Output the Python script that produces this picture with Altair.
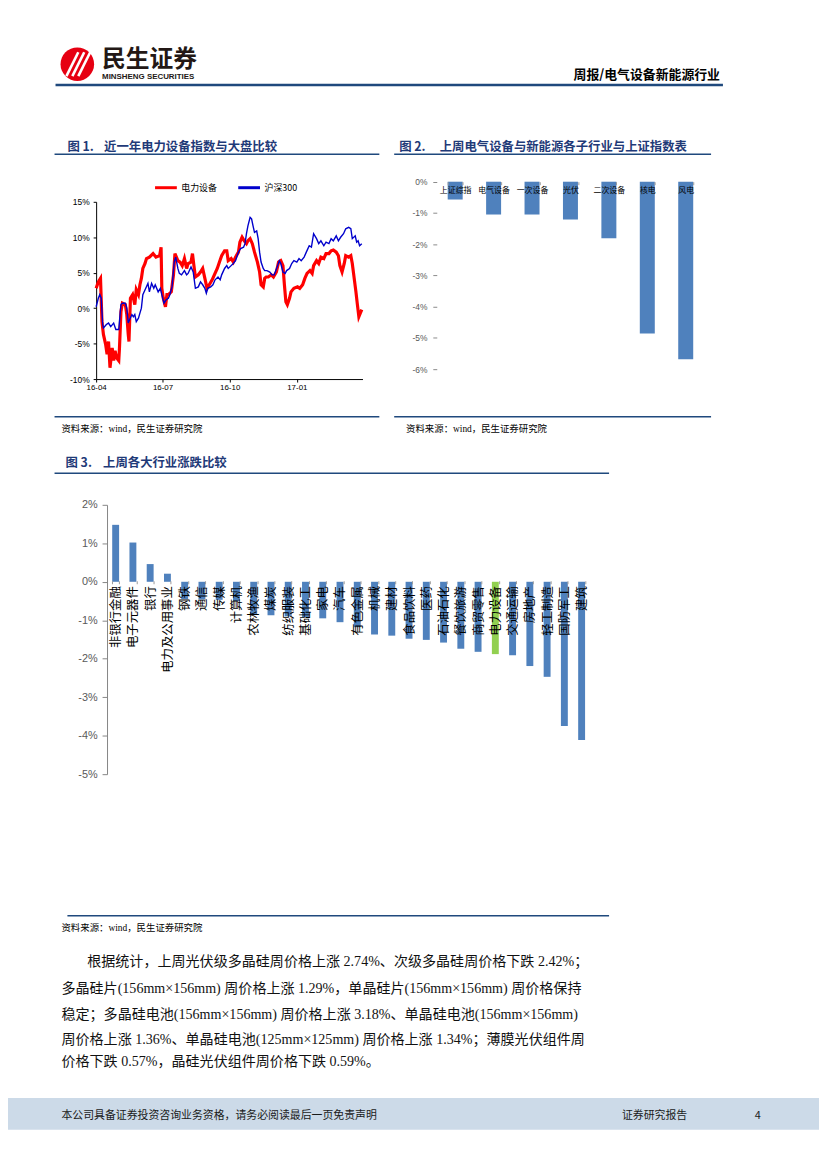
import altair as alt
import pandas as pd

# ---------------- data ----------------
# Fig 1: 电力设备 index vs 沪深300 (cumulative change, %)
dl_dates = ["2016-04-01","2016-04-04","2016-04-07","2016-04-09","2016-04-11","2016-04-14","2016-04-16","2016-04-18","2016-04-20","2016-04-23",
            "2016-04-25","2016-04-27","2016-04-29","2016-05-02","2016-05-03","2016-05-05","2016-05-07","2016-05-11","2016-05-13","2016-05-15",
            "2016-05-16","2016-05-18","2016-05-21","2016-05-24","2016-05-26","2016-05-29","2016-05-31","2016-06-02","2016-06-04","2016-06-07",
            "2016-06-09","2016-06-13","2016-06-18","2016-06-22","2016-06-27","2016-06-29","2016-06-30","2016-07-02","2016-07-05","2016-07-07",
            "2016-07-09","2016-07-13","2016-07-16","2016-07-18","2016-07-22","2016-07-25","2016-07-28","2016-07-31","2016-08-03","2016-08-05",
            "2016-08-09","2016-08-11","2016-08-13","2016-08-15","2016-08-19","2016-08-22","2016-08-25","2016-08-28","2016-08-31","2016-09-03",
            "2016-09-07","2016-09-10","2016-09-14","2016-09-17","2016-09-20","2016-09-24","2016-09-27","2016-09-29","2016-10-03","2016-10-06",
            "2016-10-09","2016-10-13","2016-10-15","2016-10-18","2016-10-21","2016-10-24","2016-10-26","2016-10-29","2016-11-01","2016-11-04",
            "2016-11-08","2016-11-11","2016-11-13","2016-11-16","2016-11-18","2016-11-20","2016-11-23","2016-11-27","2016-11-30","2016-12-04",
            "2016-12-07","2016-12-10","2016-12-13","2016-12-15","2016-12-17","2016-12-19","2016-12-22","2016-12-24","2016-12-28","2017-01-02",
            "2017-01-05","2017-01-09","2017-01-12","2017-01-15","2017-01-19","2017-01-22","2017-01-24","2017-01-28","2017-01-31","2017-02-03",
            "2017-02-07","2017-02-10","2017-02-14","2017-02-17","2017-02-20","2017-02-24","2017-02-27","2017-03-01","2017-03-04","2017-03-07",
            "2017-03-09","2017-03-13","2017-03-16","2017-03-18","2017-03-20","2017-03-23","2017-03-25","2017-03-27","2017-03-29","2017-03-31"]
dl_values = [2.8,3.7,4.2,-1.9,-3.7,-5.1,-6.5,-4.7,-8.4,-5.6,
             -7.4,-6.0,-7.0,-7.4,-5.6,-0.5,0.7,0.5,-0.9,-3.7,
             -4.7,1.4,1.9,0.5,2.6,1.9,3.3,4.2,5.6,6.3,
             7.0,7.2,7.7,7.2,7.4,8.6,2.8,1.4,0.2,1.9,
             1.9,2.3,4.7,7.7,6.7,6.5,6.0,7.0,5.6,6.3,
             6.5,7.7,6.0,4.4,4.7,5.1,5.6,4.2,2.8,3.3,
             4.0,4.7,5.6,6.5,7.4,8.1,8.1,6.7,7.0,6.5,
             7.2,7.9,9.3,10.0,9.5,9.1,9.5,9.8,9.1,7.9,
             6.5,5.1,3.3,3.0,4.2,4.4,4.4,4.7,4.4,5.1,
             6.5,6.7,6.0,3.3,0.9,0.5,1.4,2.3,2.8,3.0,
             2.8,3.3,4.2,4.9,5.3,4.9,6.0,6.7,6.3,7.2,
             7.0,7.7,7.7,8.1,8.2,7.9,7.4,6.0,5.1,6.3,
             7.4,7.2,7.4,6.3,4.7,2.3,0.5,-1.2,-0.7,-0.2]

hs_dates = ["2016-04-01","2016-04-04","2016-04-06","2016-04-08","2016-04-10","2016-04-11","2016-04-15","2016-04-18","2016-04-21","2016-04-25",
            "2016-04-28","2016-05-02","2016-05-05","2016-05-07","2016-05-11","2016-05-13","2016-05-15","2016-05-17","2016-05-20","2016-05-22",
            "2016-05-24","2016-05-26","2016-05-29","2016-05-31","2016-06-02","2016-06-04","2016-06-08","2016-06-11","2016-06-13","2016-06-16",
            "2016-06-19","2016-06-21","2016-06-25","2016-06-28","2016-06-30","2016-07-03","2016-07-06","2016-07-09","2016-07-11","2016-07-14",
            "2016-07-17","2016-07-19","2016-07-22","2016-07-24","2016-07-27","2016-07-31","2016-08-03","2016-08-05","2016-08-09","2016-08-12",
            "2016-08-15","2016-08-19","2016-08-22","2016-08-25","2016-08-28","2016-08-30","2016-09-01","2016-09-05","2016-09-08","2016-09-11",
            "2016-09-15","2016-09-18","2016-09-20","2016-09-24","2016-09-27","2016-09-29","2016-10-03","2016-10-06","2016-10-09","2016-10-13",
            "2016-10-16","2016-10-20","2016-10-22","2016-10-24","2016-10-26","2016-10-29","2016-10-31","2016-11-02","2016-11-04","2016-11-07",
            "2016-11-09","2016-11-11","2016-11-13","2016-11-16","2016-11-18","2016-11-21","2016-11-25","2016-11-28","2016-12-01","2016-12-05",
            "2016-12-08","2016-12-10","2016-12-13","2016-12-16","2016-12-18","2016-12-22","2016-12-25","2016-12-28","2017-01-01","2017-01-04",
            "2017-01-07","2017-01-11","2017-01-14","2017-01-18","2017-01-21","2017-01-24","2017-01-28","2017-01-31","2017-02-03","2017-02-07",
            "2017-02-10","2017-02-14","2017-02-17","2017-02-20","2017-02-24","2017-02-27","2017-03-02","2017-03-06","2017-03-09","2017-03-13",
            "2017-03-16","2017-03-18","2017-03-22","2017-03-24","2017-03-26","2017-03-28","2017-03-31"]
hs_values = [0.2,1.4,1.9,1.4,-2.3,-2.8,-2.3,-2.1,-2.6,-2.1,
             -3.0,-3.0,0.5,0.7,0.7,0.0,-2.1,-1.6,-0.9,-1.2,
             -0.9,-1.9,-1.4,-0.7,0.0,1.9,2.8,3.5,2.3,3.5,
             2.8,3.3,2.3,2.8,1.9,0.7,1.2,1.4,1.9,3.0,
             6.5,7.2,5.6,4.9,4.7,5.3,4.7,4.9,5.8,5.1,
             2.8,3.0,3.7,3.3,2.8,2.1,2.8,3.0,3.3,4.0,
             4.4,4.0,4.7,5.6,6.0,5.6,6.0,6.3,6.7,7.9,
             8.4,8.6,9.1,10.5,11.6,12.8,12.6,11.6,10.7,10.9,
             9.8,7.9,6.5,5.6,5.3,5.3,5.1,4.7,4.7,5.8,
             6.7,6.3,5.1,4.9,5.3,5.6,6.3,6.7,6.5,7.0,
             6.7,7.2,7.9,8.8,8.6,10.5,9.8,9.1,9.5,8.8,
             9.3,9.1,9.8,9.5,10.2,9.5,10.0,10.5,11.2,11.4,
             11.2,9.8,10.2,9.3,9.5,8.8,9.1]
series_names = ["电力设备", "沪深300"]
series_colors = ["#FF0000", "#0000CC"]
fig1_ticks = [(2016, 4), (2016, 7), (2016, 10), (2017, 1)]

# Fig 2: sub-sectors vs 上证综指 last week (%)
sub_names = ["上证综指", "电气设备", "一次设备", "光伏", "二次设备", "核电", "风电"]
sub_values = [-0.57, -1.05, -1.05, -1.21, -1.81, -4.86, -5.68]

# Fig 3: industries last week (%)
ind_names = ["非银行金融", "电子元器件", "银行", "电力及公用事业", "钢铁", "通信", "传媒", "计算机",
             "农林牧渔", "煤炭", "纺织服装", "基础化工", "家电", "汽车", "有色金属", "机械", "建材",
             "食品饮料", "医药", "石油石化", "餐饮旅游", "商贸零售", "电力设备", "交通运输", "房地产",
             "轻工制造", "国防军工", "建筑"]
ind_values = [1.48, 1.02, 0.46, 0.21, -0.45, -0.46, -0.47, -0.50, -0.85, -0.87, -0.90, -0.92, -0.95,
              -1.05, -1.18, -1.37, -1.40, -1.48, -1.51, -1.58, -1.74, -1.82, -1.88, -1.91, -2.19,
              -2.47, -3.75, -4.11]
highlight = "电力设备"

body_lines = [
    "根据统计，上周光伏级多晶硅周价格上涨 2.74%、次级多晶硅周价格下跌 2.42%；",
    "多晶硅片(156mm×156mm) 周价格上涨 1.29%，单晶硅片(156mm×156mm) 周价格保持",
    "稳定；多晶硅电池(156mm×156mm) 周价格上涨 3.18%、单晶硅电池(156mm×156mm)",
    "周价格上涨 1.36%、单晶硅电池(125mm×125mm) 周价格上涨 1.34%；薄膜光伏组件周",
    "价格下跌 0.57%，晶硅光伏组件周价格下跌 0.59%。",
]

# ---------------- styling helpers ----------------
CJK = "Noto Sans CJK SC"
SANS = "Liberation Sans, Noto Sans CJK SC"
SERIF = "Liberation Serif, Noto Sans CJK SC"
NAVY = "#1F3A78"
LINE_NAVY = "#1F497D"
W, H = 819, 1161
ONE = pd.DataFrame({"k": [0]})


def txt(s, x, y, size, color="#000000", weight="normal", align="left", font=CJK):
    return alt.Chart(ONE).mark_text(
        text=s, fontSize=size, color=color, fontWeight=weight, align=align,
        baseline="middle", font=font
    ).encode(x=alt.value(x), y=alt.value(y))


def rule(x1, y1, x2, y2, color, width):
    return alt.Chart(ONE).mark_rule(color=color, strokeWidth=width).encode(
        x=alt.value(x1), y=alt.value(y1), x2=alt.value(x2), y2=alt.value(y2))


layers = []

# ---------------- page header ----------------
layers.append(alt.Chart(ONE).mark_circle(size=1150, color="#E60012", opacity=1).encode(
    x=alt.value(70), y=alt.value(51)))
for k in range(3):
    layers.append(rule(59 + 6 * k, 63, 71 + 6 * k, 39, "#FFFFFF", 2.6))
layers.append(txt("民生证券", 95, 47, 24, "#231815", "bold"))
layers.append(txt("MINSHENG SECURITIES", 95, 64, 8, "#231815", "bold", font="Liberation Sans"))
layers.append(txt("周报/电气设备新能源行业", 719, 62, 13, "#000000", "bold", align="right"))
layers.append(rule(48, 72, 722, 72, LINE_NAVY, 2.5))

# ---------------- figure titles & frames ----------------
layers.append(txt("图 1.", 60, 135, 12.5, NAVY, "bold"))
layers.append(txt("近一年电力设备指数与大盘比较", 97, 135, 12.5, NAVY, "bold"))
layers.append(rule(47, 142, 375, 142, LINE_NAVY, 1.5))
layers.append(txt("图 2.", 395, 135, 12.5, NAVY, "bold"))
layers.append(txt("上周电气设备与新能源各子行业与上证指数表", 436, 135, 12.5, NAVY, "bold"))
layers.append(rule(390, 142, 710, 142, LINE_NAVY, 1.5))
layers.append(rule(47, 407, 375, 407, LINE_NAVY, 1.5))
layers.append(rule(390, 407, 710, 407, LINE_NAVY, 1.5))
layers.append(txt("资料来源：wind，民生证券研究院", 54, 419, 9.5, font=SERIF))
layers.append(txt("资料来源：wind，民生证券研究院", 402, 419, 9.5, font=SERIF))

layers.append(txt("图 3.", 58, 454, 12.5, NAVY, "bold"))
layers.append(txt("上周各大行业涨跌比较", 96, 454, 12.5, NAVY, "bold"))
layers.append(rule(47, 464, 607, 464, LINE_NAVY, 1.5))
layers.append(rule(60, 911, 607, 911, LINE_NAVY, 1.5))
layers.append(txt("资料来源：wind，民生证券研究院", 54, 923, 9.5, font=SERIF))

# ---------------- Fig 1: line chart ----------------
dl_df = pd.DataFrame({"date": dl_dates, "v": dl_values, "series": series_names[0]})
hs_df = pd.DataFrame({"date": hs_dates, "v": hs_values, "series": series_names[1]})
x1_scale = alt.Scale(domain=[alt.DateTime(year=2016, month=4, date=1),
                             alt.DateTime(year=2017, month=4, date=1)], range=[89, 358])
y1_scale = alt.Scale(domain=[-10, 15], range=[369, 190], nice=False, zero=False)
color_scale = alt.Scale(domain=series_names, range=series_colors)
legend1 = alt.Legend(title=None, orient="none", legendX=147, legendY=163, direction="horizontal",
                     symbolType="stroke", symbolSize=484, symbolStrokeWidth=3,
                     labelFont=CJK, labelFontSize=9, labelColor="#000000",
                     columnPadding=14, labelOffset=3)
x1_axis = alt.Axis(orient="bottom", offset=-792, title=None, grid=False,
                   values=[alt.DateTime(year=y, month=m, date=1) for y, m in fig1_ticks],
                   format="%y-%m", formatType="time", tickSize=3, labelPadding=2,
                   labelFlush=False, labelOverlap=False, labelFont="Liberation Sans",
                   labelFontSize=8, labelColor="#000000", domainColor="#000000", tickColor="#000000")
y1_axis = alt.Axis(orient="left", offset=-89, title=None, grid=False,
                   values=[-10, -5, 0, 5, 10, 15], labelExpr="datum.value + '%'",
                   tickSize=3, labelPadding=4, labelFont="Liberation Sans", labelFontSize=8.5,
                   labelColor="#000000", domainColor="#000000", tickColor="#000000")

layers.append(alt.Chart(dl_df).mark_line(strokeWidth=3.2).encode(
    x=alt.X("date:T", scale=x1_scale, axis=x1_axis),
    y=alt.Y("v:Q", scale=y1_scale, axis=y1_axis),
    color=alt.Color("series:N", scale=color_scale, legend=legend1)))
layers.append(alt.Chart(hs_df).mark_line(strokeWidth=1.4).encode(
    x=alt.X("date:T", scale=x1_scale, axis=None),
    y=alt.Y("v:Q", scale=y1_scale, axis=None),
    color=alt.Color("series:N", scale=color_scale, legend=legend1)))

# ---------------- Fig 2: sub-sector bars ----------------
sub_df = pd.DataFrame({"name": sub_names, "v": sub_values})
x2_scale = alt.Scale(domain=sub_names, range=[432, 704], paddingInner=0.61, paddingOuter=0.31)
y2_scale = alt.Scale(domain=[-6, 0], range=[359, 169.7], nice=False, zero=False)
x2_axis = alt.Axis(orient="bottom", offset=169.7 - H, title=None, domain=False, grid=False,
                   tickBand="extent", tickSize=3, tickColor="#9A9A9A", labelPadding=2,
                   labelAngle=0, labelFont=CJK, labelFontSize=8, labelColor="#000000",
                   labelOverlap=False, zindex=1)
y2_axis = alt.Axis(orient="left", offset=-433, title=None, domain=False, grid=False,
                   values=[-6, -5, -4, -3, -2, -1, 0], labelExpr="datum.value + '%'",
                   tickSize=4, tickColor="#8A8A8A", labelPadding=6, labelFont="Liberation Sans",
                   labelFontSize=8.5, labelColor="#595959")
layers.append(alt.Chart(sub_df).mark_bar(color="#4F81BD").encode(
    x=alt.X("name:N", scale=x2_scale, sort=None, axis=x2_axis),
    y=alt.Y("v:Q", scale=y2_scale, axis=y2_axis),
    y2=alt.datum(0)))

# ---------------- Fig 3: industry bars ----------------
ind_df = pd.DataFrame({"name": ind_names, "v": ind_values})
x3_scale = alt.Scale(domain=ind_names, range=[100, 588], paddingInner=0.6, paddingOuter=0.3)
y3_scale = alt.Scale(domain=[-5, 2], range=[768, 496], nice=False, zero=False)
x3_axis = alt.Axis(orient="bottom", offset=572.7 - H, title=None, domain=False, grid=False,
                   tickBand="extent", tickSize=3, tickColor="#9A9A9A", labelPadding=2,
                   labelAngle=-90, labelFont=CJK, labelFontSize=12.5, labelColor="#000000",
                   labelOverlap=False, zindex=1)
y3_axis = alt.Axis(orient="left", offset=-100, title=None, grid=False,
                   values=[-5, -4, -3, -2, -1, 0, 1, 2], labelExpr="datum.value + '%'",
                   tickSize=5, tickColor="#868686", domainColor="#868686", labelPadding=5,
                   labelFont="Liberation Sans", labelFontSize=11, labelColor="#595959")
layers.append(alt.Chart(ind_df).mark_bar().encode(
    x=alt.X("name:N", scale=x3_scale, sort=None, axis=x3_axis),
    y=alt.Y("v:Q", scale=y3_scale, axis=y3_axis),
    y2=alt.datum(0),
    color=alt.condition(alt.datum.name == highlight, alt.value("#92D050"), alt.value("#4F81BD"))))

# ---------------- body text ----------------
body_y = [958, 985, 1011, 1036, 1059]
for i, (line, yy) in enumerate(zip(body_lines, body_y)):
    layers.append(txt(line, 80 if i == 0 else 54, yy, 14.2, "#111111", font=SERIF))

# ---------------- footer ----------------
layers.append(alt.Chart(ONE).mark_rect(color="#CCDAE8").encode(
    x=alt.value(0), x2=alt.value(W), y=alt.value(1095), y2=alt.value(1127)))
layers.append(txt("本公司具备证券投资咨询业务资格，请务必阅读最后一页免责声明", 54, 1113, 11, "#1A1A1A"))
layers.append(txt("证券研究报告", 620, 1113, 11, "#1A1A1A"))
layers.append(txt("4", 754, 1113, 11, "#1A1A1A"))

chart = alt.layer(*layers).resolve_scale(
    x="independent", y="independent"
).resolve_axis(
    x="independent", y="independent"
).properties(
    width=W, height=H, padding=0,
    autosize=alt.AutoSizeParams(type="none"),
    background="#FFFFFF",
).configure_view(stroke=None)

chart.save("out.html", embed_options={"renderer": "svg", "actions": False})
